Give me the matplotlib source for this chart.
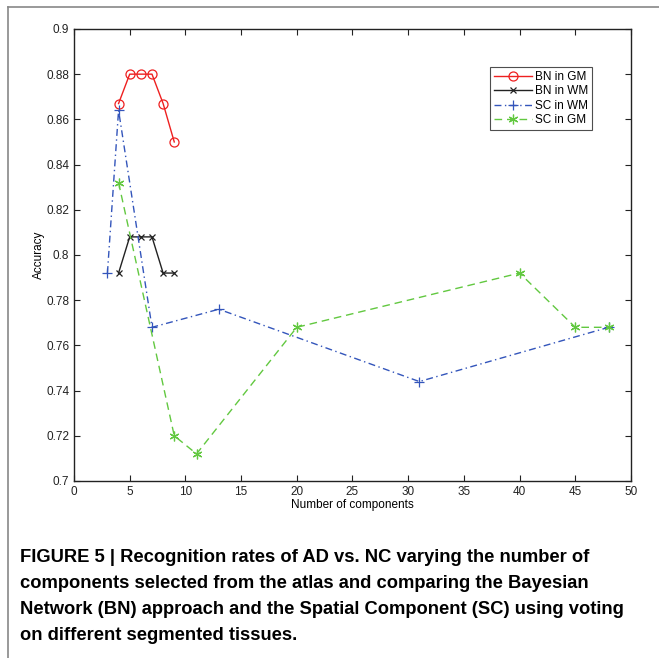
import matplotlib
matplotlib.use("Agg")
import matplotlib.pyplot as plt
from matplotlib.lines import Line2D

# Data
bn_gm_x = [4, 5, 6, 7, 8, 9]
bn_gm_y = [0.867, 0.880, 0.880, 0.880, 0.867, 0.850]

bn_wm_x = [4, 5, 6, 7, 8, 9]
bn_wm_y = [0.792, 0.808, 0.808, 0.808, 0.792, 0.792]

sc_wm_x = [3, 4, 7, 13, 31, 48]
sc_wm_y = [0.792, 0.864, 0.768, 0.776, 0.744, 0.768]

sc_gm_x = [4, 9, 11, 20, 40, 45, 48]
sc_gm_y = [0.832, 0.720, 0.712, 0.768, 0.792, 0.768, 0.768]

x_ticks = list(range(0, 55, 5))
y_ticks = [0.7, 0.72, 0.74, 0.76, 0.78, 0.8, 0.82, 0.84, 0.86, 0.88, 0.9]
y_tick_labels = ["0.7", "0.72", "0.74", "0.76", "0.78", "0.8",
                 "0.82", "0.84", "0.86", "0.88", "0.9"]

caption = [
    "FIGURE 5 | Recognition rates of AD vs. NC varying the number of",
    "components selected from the atlas and comparing the Bayesian",
    "Network (BN) approach and the Spatial Component (SC) using voting",
    "on different segmented tissues.",
]

plt.rcParams["font.family"] = ["Liberation Sans", "DejaVu Sans"]

fig = plt.figure(figsize=(6.59, 6.58), dpi=100)
ax = fig.add_axes([0.1123, 0.269, 0.8452, 0.687])

asterisk = (6, 2, 0)
ax.plot(bn_gm_x, bn_gm_y, color="#ee2020", linestyle="-", linewidth=1.0,
        marker="o", markersize=6.5, markerfacecolor="none",
        markeredgewidth=0.9, label="BN in GM")
ax.plot(bn_wm_x, bn_wm_y, color="#222222", linestyle="-", linewidth=1.0,
        marker="x", markersize=4, markeredgewidth=0.9, label="BN in WM")
ax.plot(sc_wm_x, sc_wm_y, color="#3355bb", linestyle=(0, (5, 2.5, 1, 2.5)),
        linewidth=1.0, marker="+", markersize=7, markeredgewidth=0.9,
        label="SC in WM")
ax.plot(sc_gm_x, sc_gm_y, color="#62c840", linestyle=(0, (5.5, 3.5)),
        linewidth=1.0, marker=asterisk, markersize=7, markeredgewidth=0.9,
        label="SC in GM")

ax.set_xlim(0, 50)
ax.set_ylim(0.7, 0.9)
ax.set_xticks(x_ticks)
ax.set_yticks(y_ticks)
ax.set_yticklabels(y_tick_labels)
ax.tick_params(direction="in", length=4, width=0.8, labelsize=8.5,
               top=True, right=True, colors="#222222")
for side in ax.spines.values():
    side.set_linewidth(1.0)
    side.set_color("#222222")

ax.set_xlabel("Number of components", fontsize=8.5, labelpad=1)
ax.set_ylabel("Accuracy", fontsize=8.5, labelpad=1)

leg = ax.legend(loc="upper right", bbox_to_anchor=(0.93, 0.915),
                fontsize=8.5, frameon=True, fancybox=False,
                handlelength=3.2, handletextpad=0.3, borderpad=0.3,
                labelspacing=0.2, borderaxespad=0)
leg.get_frame().set_edgecolor("#222222")
leg.get_frame().set_linewidth(0.8)

# outer panel border (top and left)
fig.add_artist(Line2D([8 / 659, 1.0], [1 - 7 / 658, 1 - 7 / 658],
                      transform=fig.transFigure, color="#888888", linewidth=1.2))
fig.add_artist(Line2D([8 / 659, 8 / 659], [0.0, 1 - 7 / 658],
                      transform=fig.transFigure, color="#888888", linewidth=1.2))

for i, line in enumerate(caption):
    fig.text(20 / 659, 1 - (557 + i * 26.3) / 658, line, fontsize=13.2,
             fontweight="bold", va="center", ha="left",
             family=["Liberation Sans", "DejaVu Sans"])

fig.savefig("out.png", dpi=100)
